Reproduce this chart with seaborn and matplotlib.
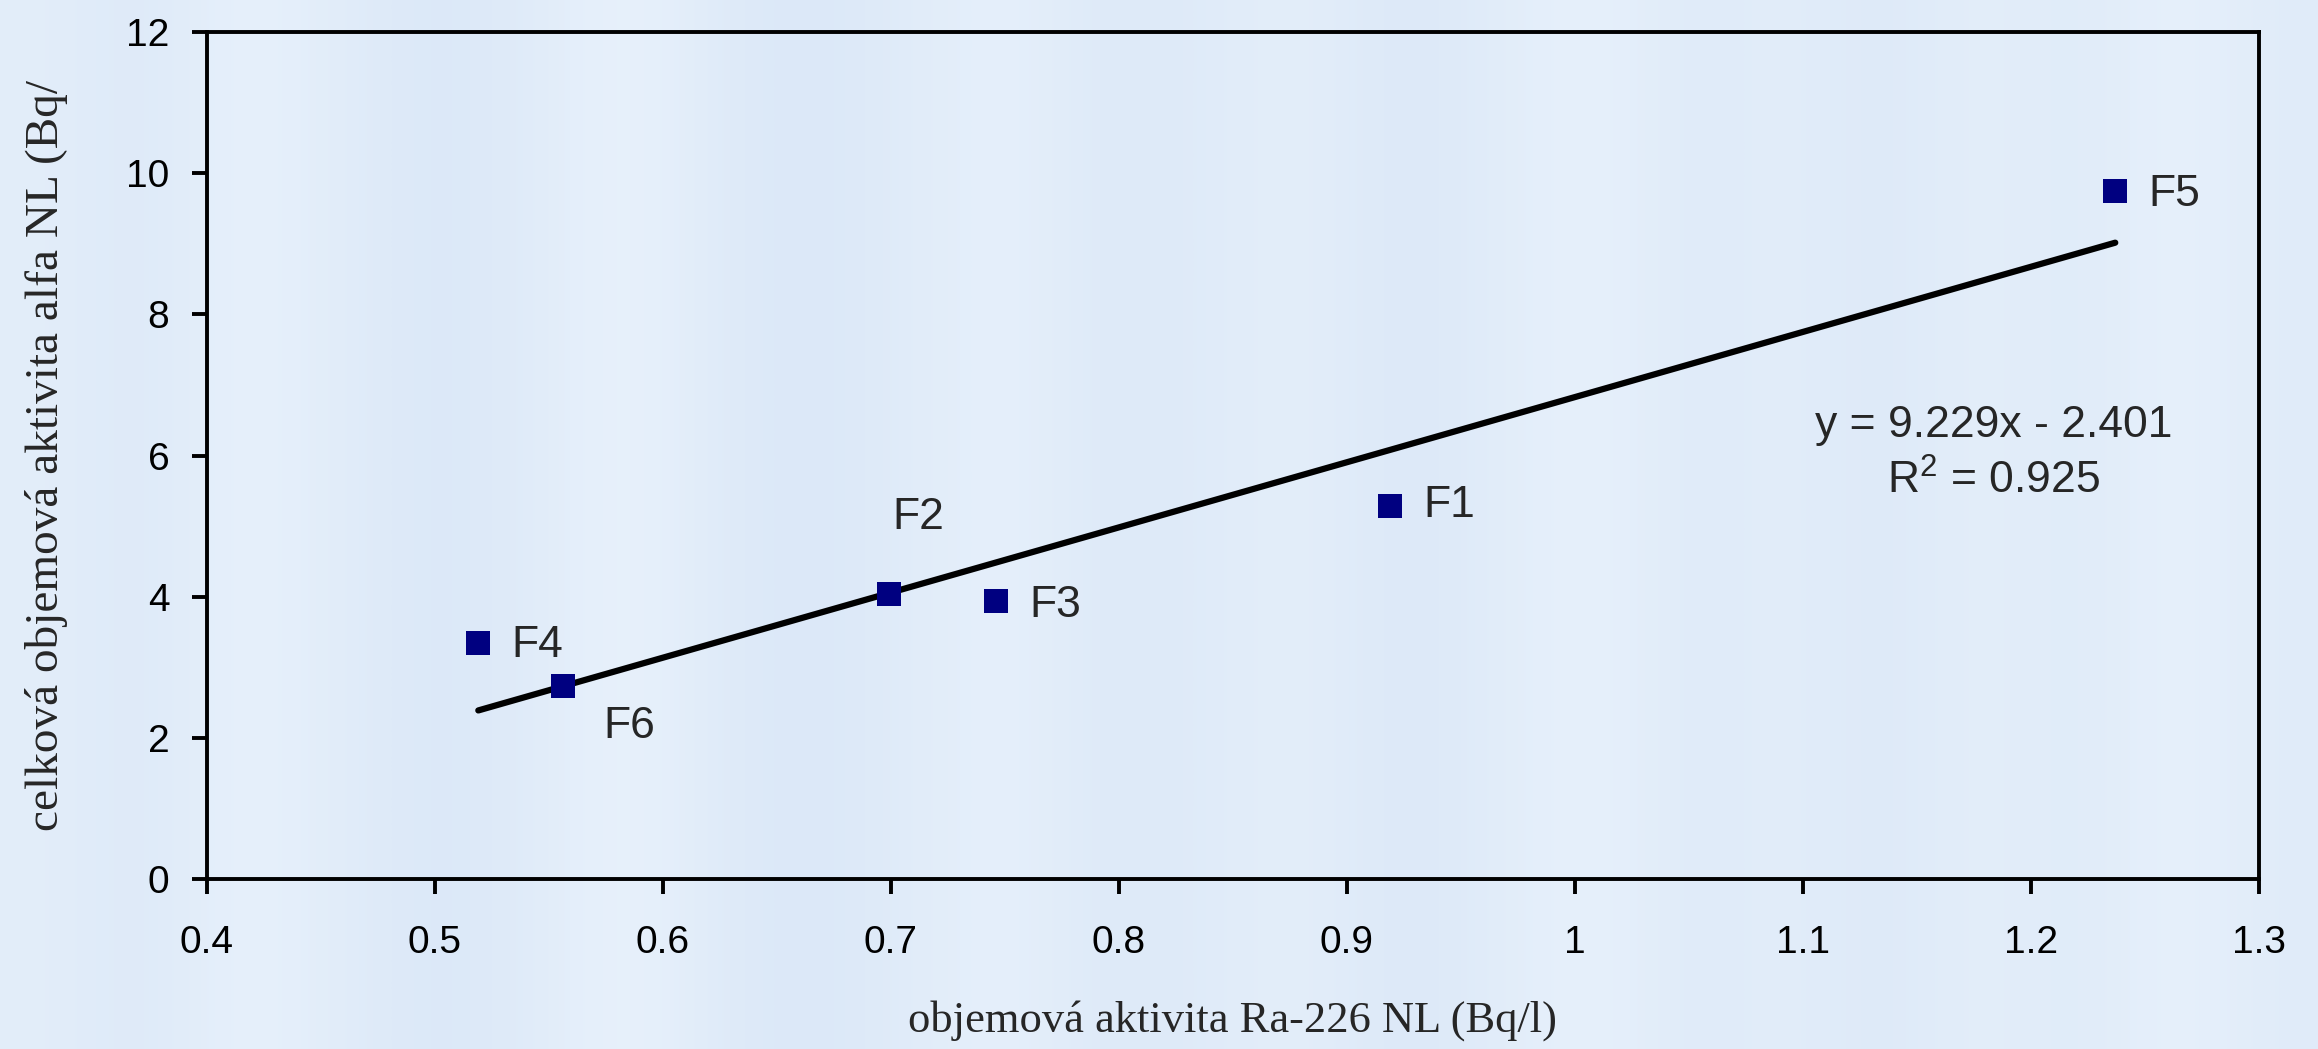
import numpy as np
import pandas as pd
import seaborn as sns
import matplotlib.pyplot as plt
from matplotlib.colors import LinearSegmentedColormap

labels = ["F1", "F2", "F3", "F4", "F5", "F6"]
ra226 = [0.919, 0.699, 0.746, 0.519, 1.237, 0.556]
alpha = [5.29, 4.04, 3.94, 3.35, 9.75, 2.73]

# excel trendline
slope = 9.229
intercept = -2.401
r2 = 0.925

x_ticks = [0.4, 0.5, 0.6, 0.7, 0.8, 0.9, 1, 1.1, 1.2, 1.3]
y_ticks = [0, 2, 4, 6, 8, 10, 12]

# background streaks, just a soft texture
bg_shades = [0.55, 0.35, 0.7, 0.5, 0.3, 0.45, 0.75, 0.4, 0.3, 0.5, 0.65, 0.35,
             0.45, 0.6, 0.3, 0.5, 0.7, 0.4, 0.55, 0.35, 0.6, 0.4, 0.7, 0.45]

sns.set_style("ticks")
plt.rcParams["font.family"] = ["Liberation Sans", "DejaVu Sans"]
plt.rcParams["mathtext.fontset"] = "custom"
plt.rcParams["mathtext.rm"] = "Liberation Sans"

df = pd.DataFrame({"label": labels, "ra226": ra226, "alpha": alpha})

fig = plt.figure(figsize=(23.18, 10.49), dpi=100)
fig.patch.set_facecolor("#dfeaf8")

bg = fig.add_axes([0, 0, 1, 1], zorder=-10)
cmap = LinearSegmentedColormap.from_list("bg", ["#d0e0f5", "#f3f9fe"])
bg.imshow(np.array([bg_shades, bg_shades]), cmap=cmap, vmin=0, vmax=1,
          aspect="auto", interpolation="bicubic", extent=[0, 1, 0, 1])
bg.axis("off")

ax = fig.add_axes([0.0893, 0.162, 0.8852, 0.8075])
ax.patch.set_alpha(0)

# trend line from the equation
fit_x = np.array([min(ra226), max(ra226)])
fit_y = slope * fit_x + intercept
sns.lineplot(x=fit_x, y=fit_y, color="black", linewidth=4.5, ax=ax, zorder=2)

sns.scatterplot(data=df, x="ra226", y="alpha", marker="s", s=310,
                color="#000080", linewidth=0, ax=ax, zorder=3)

# data labels
offsets = {"F1": (24, 0), "F2": (3, 55), "F3": (24, -3), "F4": (24, -2),
           "F5": (24, -3), "F6": (29, -29)}
for lab, xv, yv in zip(labels, ra226, alpha):
    dx, dy = offsets[lab]
    ax.annotate(lab, (xv, yv), xytext=(dx, dy), textcoords="offset points",
                ha="left", va="center", fontsize=32)

eq = f"y = {slope:.3f}x - {abs(intercept):.3f}\nR$^2$ = {r2:.3f}"
ax.text(1.1835, 6.02, eq, ha="center", va="center", fontsize=32, linespacing=1.4)

ax.set_xlim(0.4, 1.3)
ax.set_ylim(0, 12)
ax.set_xticks(x_ticks)
ax.set_xticklabels([f"{t:g}" for t in x_ticks])
ax.set_yticks(y_ticks)

for side in ["left", "right", "top", "bottom"]:
    ax.spines[side].set_visible(True)
    ax.spines[side].set_color("black")
    ax.spines[side].set_linewidth(2.8)

ax.tick_params(axis="both", direction="out", length=11, width=2.8, colors="black",
               labelsize=28)
ax.tick_params(axis="x", pad=22)
ax.tick_params(axis="y", pad=16)

ax.set_xlabel("objemová aktivita Ra-226 NL (Bq/l)", family="Liberation Serif",
              fontsize=32, labelpad=28)
ax.set_ylabel("celková objemová aktivita alfa NL (Bq/", family="Liberation Serif",
              fontsize=34, labelpad=42)

fig.savefig("out.png", dpi=100, facecolor=fig.get_facecolor())
